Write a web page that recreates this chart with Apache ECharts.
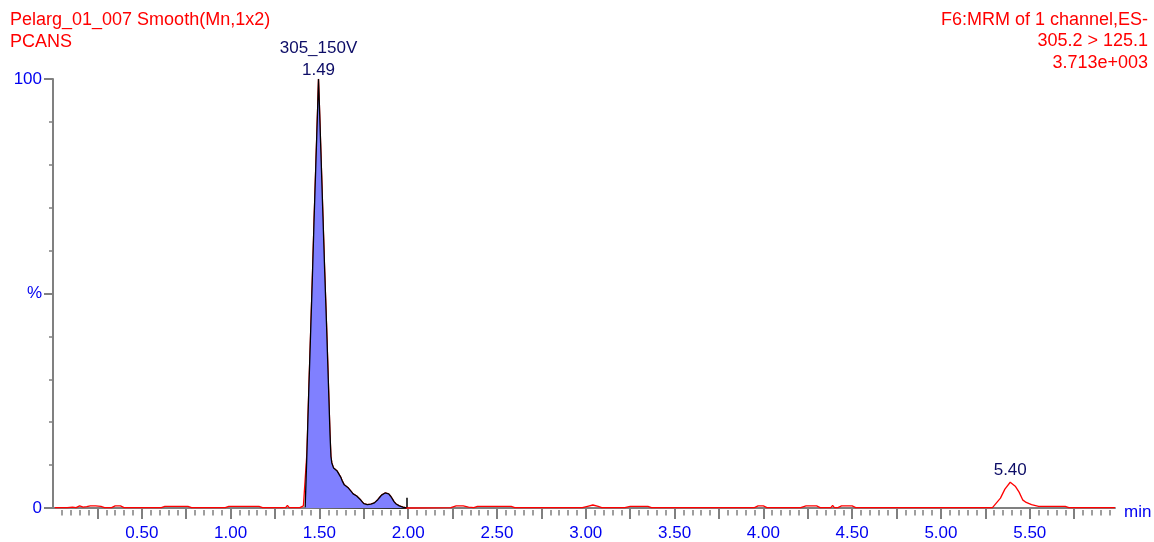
<!DOCTYPE html>
<html><head><meta charset="utf-8">
<script src="https://cdn.jsdelivr.net/npm/echarts@6/dist/echarts.min.js"></script>
<style>html,body{margin:0;padding:0;background:#fff}#c{width:1154px;height:542px}</style>
</head><body><div id="c"></div>
<script>
// ---- data (retention time in min, relative intensity in %) ----
const times = [
  0.01,0.05,0.08,0.09,0.11,0.13,0.15,0.17,0.19,0.21,0.24,0.27,0.29,0.33,0.35,0.38,0.40,
  0.61,0.63,0.70,0.76,0.78,0.97,0.99,1.10,1.16,1.18,1.31,1.32,1.33,1.39,1.40,1.41,
  1.42,1.43,1.44,1.45,1.46,1.47,1.48,1.49,1.495,1.50,1.51,1.52,1.53,1.54,1.55,1.56,1.565,
  1.57,1.58,1.59,1.60,1.61,1.62,1.63,1.64,1.65,1.66,1.67,1.68,1.69,1.70,1.71,1.72,1.73,
  1.74,1.75,1.76,1.77,1.78,1.79,1.80,1.81,1.82,1.83,1.84,1.85,1.86,1.87,1.88,1.89,1.90,
  1.91,1.92,1.93,1.94,1.95,1.96,1.97,1.98,1.99,
  2.00,2.24,2.27,2.31,2.34,2.37,2.39,2.50,2.58,2.60,2.98,3.01,3.04,3.07,3.09,3.22,3.25,
  3.35,3.37,3.95,3.97,4.00,4.02,4.21,4.24,4.30,4.32,4.38,4.39,4.40,4.42,4.44,4.50,4.52,
  5.29,5.30,5.335,5.36,5.39,5.42,5.44,5.46,5.48,5.51,5.55,5.70,5.72,5.98
];
const intensity = [
  0.1,0.1,0.1,0.4,0.2,0.1,0.5,0.2,0.3,0.5,0.5,0.4,0.1,0.1,0.5,0.5,0.1,
  0.1,0.4,0.4,0.4,0.1,0.1,0.4,0.4,0.4,0.1,0.1,0.6,0.1,0.1,0.3,0.5,
  0.2,13,27,40,53,67,80,93,100,94,81,68,55,43,30,17,12,
  10.5,9.3,8.9,8.6,8.2,7.2,6.2,5.4,5.0,4.8,4.5,3.8,3.3,3.0,2.8,2.5,2.0,
  1.5,1.0,0.8,0.8,0.8,0.9,1.0,1.2,1.6,2.0,2.5,3.0,3.4,3.5,3.5,3.3,2.8,
  2.2,1.5,1.0,0.7,0.5,0.4,0.2,0.1,0.0,
  0.1,0.1,0.5,0.5,0.2,0.1,0.4,0.4,0.4,0.1,0.1,0.4,0.7,0.4,0.1,0.1,0.4,
  0.4,0.1,0.1,0.5,0.5,0.1,0.1,0.5,0.5,0.1,0.1,0.6,0.1,0.1,0.5,0.5,0.1,
  0.1,0.2,2.3,4.4,6.0,5.0,3.7,1.9,1.3,0.8,0.4,0.4,0.1,0.1
];
const peakStart = 1.42;          // integration start
const peakEnd = 1.99;            // integration end
const endMarkerHeight = 2.4;     // height of the integration end marker
const peakLabelTimes = [1.495, 5.39];
const peakLabelValues = [100, 6.0];
const peakLabelTexts = ['305_150V\n1.49', '5.40'];
const xLabelValues = [0.5,1.0,1.5,2.0,2.5,3.0,3.5,4.0,4.5,5.0,5.5];
const xMajorTicks = [0.25,0.5,0.75,1.0,1.25,1.5,1.75,2.0,2.25,2.5,2.75,3.0,3.25,3.5,3.75,4.0,4.25,4.5,4.75,5.0,5.25,5.5,5.75];
const yTickLabels = {0: '0', 50: '%', 100: '100'};
const headerLeft = 'Pelarg_01_007 Smooth(Mn,1x2)\nPCANS';
const headerRight = 'F6:MRM of 1 channel,ES-\n305.2 > 125.1\n3.713e+003';

// ---- build ----
const trace = times.map((t, i) => [t, intensity[i]]);
const peakArea = trace.filter(p => p[0] >= peakStart - 1e-9 && p[0] <= peakEnd + 1e-9);
const startVal = peakArea[0][1];
const xMinorTicks = [];
for (let k = 1; k < 120; k++) xMinorTicks.push(Math.round(k * 5) / 100);

const FONT = '"Liberation Sans", Arial, sans-serif';
const GRAY = '#808080';
const BLUE = '#0000f0';
const NAVY = '#0c0c66';

const chart = echarts.init(document.getElementById('c'), null, {renderer: 'canvas'});
chart.setOption({
  animation: false,
  backgroundColor: '#fff',
  title: [
    {text: headerLeft, left: 10, top: 9, padding: 0,
     textStyle: {color: '#ff0000', fontSize: 18, fontWeight: 'normal', lineHeight: 22, fontFamily: FONT}}
  ],
  graphic: [
    {type: 'text', right: 6, top: 9, silent: true,
     style: {text: headerRight, fill: '#ff0000', font: '18px ' + FONT, textAlign: 'right', lineHeight: 21.5}}
  ],
  grid: {left: 53, right: 39, top: 79, bottom: 34, containLabel: false, outerBoundsMode: 'none'},
  xAxis: [
    {type: 'value', min: 0, max: 5.98, position: 'bottom', offset: 2, z: 0,
     axisLine: {show: true, lineStyle: {color: GRAY, width: 2}},
     axisTick: {show: true, customValues: xMajorTicks, length: 11, lineStyle: {color: GRAY, width: 2}},
     axisLabel: {show: true, customValues: xLabelValues, formatter: v => v.toFixed(2), color: BLUE,
                 fontSize: 17, fontFamily: FONT, margin: 15},
     splitLine: {show: false},
     name: 'min', nameLocation: 'end', nameGap: 9,
     nameTextStyle: {color: BLUE, fontSize: 17, fontFamily: FONT, verticalAlign: 'top', lineHeight: 8}},
    {type: 'value', min: 0, max: 5.98, position: 'bottom', offset: 2, z: 0,
     axisLine: {show: false},
     axisTick: {show: true, customValues: xMinorTicks, length: 5.5, lineStyle: {color: GRAY, width: 1.5}},
     axisLabel: {show: false},
     splitLine: {show: false}}
  ],
  yAxis: {
    type: 'value', min: 0, max: 100, interval: 50, z: 0,
    axisLine: {show: true, lineStyle: {color: GRAY, width: 2}},
    axisTick: {show: true, length: 9, lineStyle: {color: GRAY, width: 2}},
    minorTick: {show: true, splitNumber: 5, length: 4, lineStyle: {color: GRAY, width: 1.5}},
    axisLabel: {formatter: v => yTickLabels[v] !== undefined ? yTickLabels[v] : '', color: BLUE,
                fontSize: 17, fontFamily: FONT, margin: 11},
    splitLine: {show: false}, minorSplitLine: {show: false}
  },
  series: [
    {type: 'line', name: 'trace', data: trace, showSymbol: false, symbol: 'none', z: 6, clip: false,
     lineStyle: {color: '#ff0000', width: 1.3}, silent: true},
    {type: 'line', name: 'peak', data: peakArea, showSymbol: false, symbol: 'none', z: 7,
     lineStyle: {color: '#000000', width: 1.3},
     areaStyle: {color: '#8080ff', opacity: 1}, silent: true,
     markLine: {symbol: 'none', silent: true, animation: false, label: {show: false},
       lineStyle: {color: '#000000', width: 1.5, type: 'solid'},
       data: [
         [{coord: [peakStart, startVal]}, {coord: [peakEnd, 0]}],
         [{coord: [peakEnd, 0]}, {coord: [peakEnd, endMarkerHeight]}]
       ]}},
    {type: 'scatter', name: 'labels', z: 5, symbol: 'circle', symbolSize: 0.5, silent: true, clip: false,
     itemStyle: {color: NAVY, opacity: 1},
     data: peakLabelTimes.map((t, i) => ({value: [t, peakLabelValues[i]],
       label: {show: true, position: 'top', distance: i === 0 ? -3 : 1, formatter: peakLabelTexts[i],
               color: NAVY, fontSize: 17, fontFamily: FONT, lineHeight: 22, align: 'center'}}))}
  ]
});
</script></body></html>
